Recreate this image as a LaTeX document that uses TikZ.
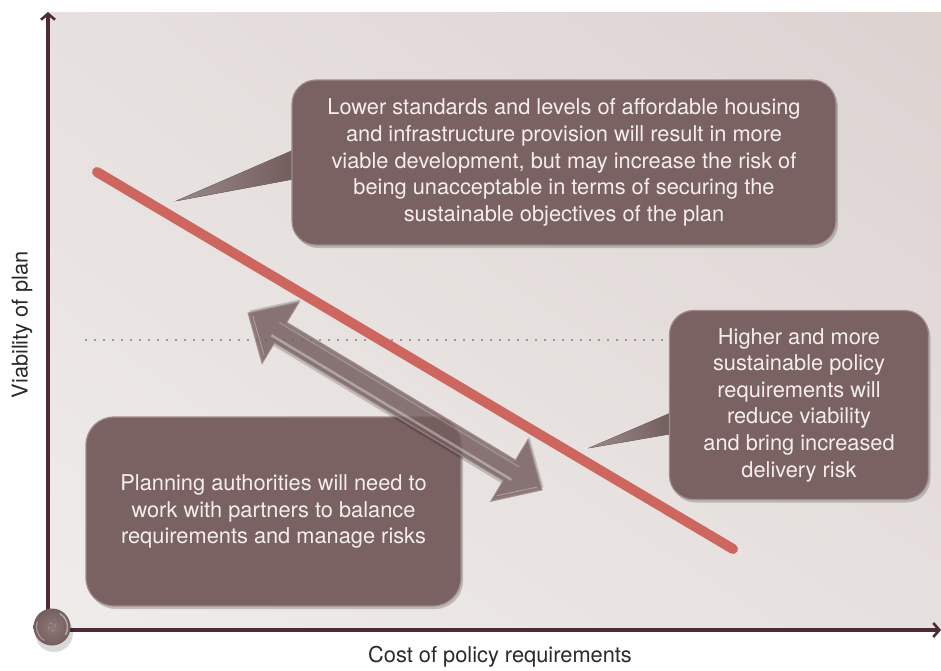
\documentclass[tikz,border=0pt]{standalone}
\usepackage{fontspec}
\setmainfont{TeX Gyre Heros}
\usetikzlibrary{arrows.meta,shadows,calc,shadings}
\definecolor{axiscol}{HTML}{4E2A35}
\definecolor{boxfill}{HTML}{7A6262}
\definecolor{boxedge}{HTML}{A08C8C}
\definecolor{boxtext}{HTML}{F3EDEC}
\definecolor{redline}{HTML}{CD665E}
\definecolor{bgA}{HTML}{DCD3D1}
\definecolor{bgB}{HTML}{EFECE9}
\definecolor{bgC}{HTML}{E6E0DE}
\definecolor{dotcol}{HTML}{8A7F7E}
\definecolor{labcol}{HTML}{2A2A2A}
\tikzset{
  callout/.style={rectangle, rounded corners=24pt, fill=boxfill, draw=boxedge, line width=1.2pt,
    text=boxtext, align=center, inner sep=0pt,
    font=\fontsize{21.8}{26.6}\selectfont,
    drop shadow={shadow xshift=2pt, shadow yshift=-3pt, opacity=0.35, fill=black!60}},
  pointer/.style={left color=boxfill!75!white, right color=boxfill!90!black, draw=boxedge!80!black, line width=0.4pt},
  axisline/.style={draw=axiscol, line width=3.5pt, -{Straight Barb[length=6pt,width=14pt,line width=2.6pt]}},
  axislabel/.style={text=labcol, font=\fontsize{21.8}{24}\selectfont}
}
\begin{document}
\begin{tikzpicture}[x=1pt,y=-1pt]
\useasboundingbox (0,0) rectangle (941,670);
% background panel
\shade[upper right=bgA, lower left=bgB, upper left=bgC, lower right=bgC] (48,12) rectangle (941,630);
% dotted reference line
\draw[dotcol, line width=2.4pt, line cap=round, dash pattern=on 0pt off 9pt] (86,340) -- (670,340);
% red trend line
\coordinate (r1) at (97,172);
\coordinate (r2) at (733,549);
\draw[redline, line width=10pt, line cap=round] (r1) -- (r2);
% pointers
\coordinate (t1) at (176,201);
\coordinate (t2) at (589,448);
\fill[pointer] (t1) -- (305,145) -- (305,177) -- cycle;
\fill[pointer] (t2) -- (682,408) -- (682,432) -- cycle;
% boxes
\node[callout, minimum width=544pt, minimum height=165pt] (top) at (564,162.5)
  {Lower standards and levels of affordable housing\\
   and infrastructure provision will result in more\\
   viable development, but may increase the risk of\\
   being unacceptable in terms of securing the\\
   sustainable objectives of the plan};
\node[callout, minimum width=259pt, minimum height=189pt] (right) at (799,405)
  {Higher and more\\ sustainable policy\\ requirements will\\ reduce viability\\ and bring increased\\ delivery risk};
\node[callout, rounded corners=28pt, minimum width=375pt, minimum height=189pt] (bottom) at (273.5,511.5)
  {Planning authorities will need to\\ work with partners to balance\\ requirements and manage risks};
% double arrow (translucent)
\coordinate (dA) at (248,313);
\coordinate (dB) at (542,490);
\begin{scope}[shift={(395,401.5)}, rotate=-31.05]
  \fill[black, opacity=0.18] (-171.5,-3) -- (-133.5,33) -- (-133.5,15) -- (133.5,15) -- (133.5,33) -- (171.5,-3) -- (133.5,-39) -- (133.5,-9) -- (-133.5,-9) -- (-133.5,-39) -- cycle;
  \filldraw[fill=boxfill, fill opacity=0.8, draw=boxedge, draw opacity=0.9, line width=1pt, line join=miter]
    (-171.5,0) -- (-133.5,36) -- (-133.5,12) -- (133.5,12) -- (133.5,36) -- (171.5,0) -- (133.5,-36) -- (133.5,-12) -- (-133.5,-12) -- (-133.5,-36) -- cycle;
  \draw[white, opacity=0.35, line width=2.5pt] (-140,7) -- (140,7);
  \draw[white, opacity=0.2, line width=1.5pt] (-140,-8) -- (140,-8);
  \draw[white, opacity=0.3, line width=1pt] (-166,0) -- (-136,28);
  \draw[white, opacity=0.3, line width=1pt] (166,0) -- (136,28);
\end{scope}
% axes
\coordinate (o) at (48,630);
\coordinate (ytop) at (48,12);
\coordinate (xend) at (941,630);
\draw[axisline] (48,632) -- (ytop);
\draw[axisline] (46,630) -- (xend);
% origin ball
\fill[black, opacity=0.15] (54,633) circle (19);
\shade[inner color=boxfill!85!white, outer color=boxfill!95!black] (52,627) circle (18.5);
\draw[white, opacity=0.45, line width=1.5pt] (52,627) ++(-60:15.5) arc (-60:30:15.5);
\draw[white, opacity=0.35, line width=1.2pt] (52,627) ++(120:15.5) arc (120:200:15.5);
\node[circle, draw=white, draw opacity=0.35, dashed, line width=0.4pt, minimum size=8pt, inner sep=0pt] (orig) at (52,627) {};
% axis labels
\node[axislabel] (xlab) at (500,657) {Cost of policy requirements};
\node[axislabel, rotate=90] (ylab) at (22,325) {Viability of plan};
\end{tikzpicture}
\end{document}
